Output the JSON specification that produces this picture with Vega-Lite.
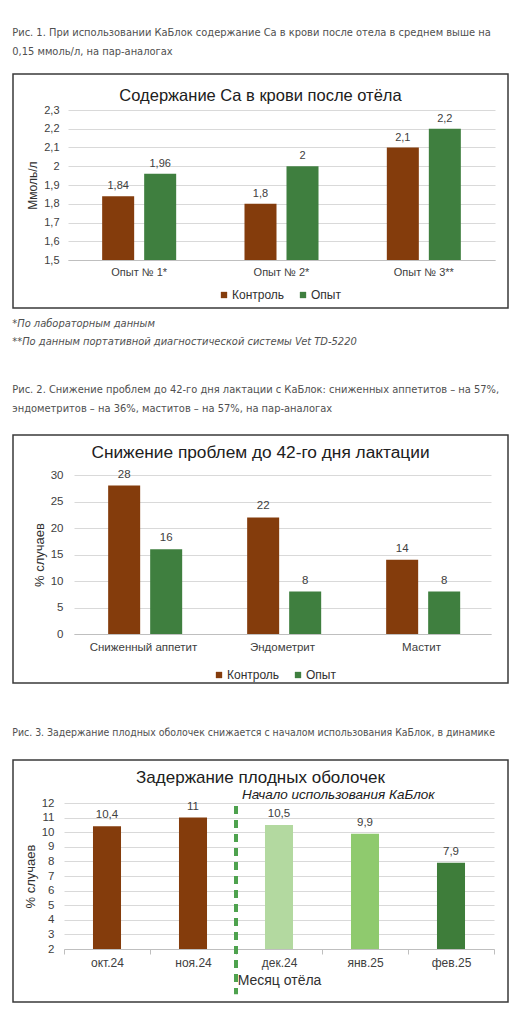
{
  "$schema": "https://vega.github.io/schema/vega-lite/v6.json",
  "background": "white",
  "padding": {"left": 12, "top": 27, "right": 10, "bottom": 5},
  "spacing": 37,
  "resolve": {"scale": {"color": "independent"}, "legend": {"color": "independent"}},
  "config": {
    "locale": {"number": {"decimal": ",", "thousands": " ", "grouping": [3], "currency": ["", " ₽"]}},
    "font": "Liberation Sans",
    "view": {"stroke": "#3a3a3a", "strokeWidth": 1.5},
    "axis": {
      "labelFont": "Liberation Sans",
      "labelColor": "#404040",
      "titleColor": "#303030",
      "titleFont": "Liberation Sans",
      "titleFontWeight": "normal",
      "gridColor": "#d9d9d9",
      "domainColor": "#bfbfbf",
      "ticks": false,
      "labelOverlap": false
    },
    "legend": {"labelFont": "Liberation Sans", "labelColor": "#303030"},
    "title": {"font": "Liberation Sans", "fontWeight": "normal", "color": "#202020"}
  },
  "vconcat": [
    {
      "title": {
        "text": ["Рис. 1. При использовании КаБлок содержание Ca в крови после отела в среднем выше на", "0,15 ммоль/л, на пар-аналогах"],
        "anchor": "start", "font": "DejaVu Sans Condensed", "fontSize": 11, "color": "#505050", "lineHeight": 19, "offset": 16
      },
      "resolve": {"scale": {"color": "independent"}, "legend": {"color": "independent"}},
      "vconcat": [
        {
          "title": {
            "text": ["*По лабораторным данным", "**По данным портативной диагностической системы Vet TD-5220"],
            "orient": "bottom", "anchor": "start", "font": "DejaVu Sans Condensed", "fontStyle": "italic", "fontSize": 11, "color": "#505050", "lineHeight": 18, "offset": 9
          },
          "vconcat": [
            {
              "width": 495,
              "height": 234,
              "title": {"text": "Содержание Ca в крови после отёла", "fontSize": 16.5, "offset": -30, "frame": "group"},
              "data": {"values": [
                {"trial": "Опыт № 1*", "group": "Контроль", "value": 1.84},
                {"trial": "Опыт № 1*", "group": "Опыт", "value": 1.96},
                {"trial": "Опыт № 2*", "group": "Контроль", "value": 1.8},
                {"trial": "Опыт № 2*", "group": "Опыт", "value": 2},
                {"trial": "Опыт № 3**", "group": "Контроль", "value": 2.1},
                {"trial": "Опыт № 3**", "group": "Опыт", "value": 2.2}
              ]},
              "encoding": {
                "x": {
                  "field": "trial", "type": "nominal", "sort": null,
                  "scale": {"range": [55, 482], "paddingInner": 0, "paddingOuter": 0},
                  "axis": {"orient": "bottom", "offset": -48, "labelAngle": 0, "labelPadding": 6, "labelFontSize": 11, "title": null}
                },
                "xOffset": {"field": "group", "sort": null, "scale": {"paddingInner": 0.238, "paddingOuter": 0.813}},
                "y": {
                  "field": "value", "type": "quantitative",
                  "scale": {"domain": [1.5, 2.3], "range": [186, 36], "nice": false, "zero": false},
                  "axis": {"offset": -55, "values": [1.5, 1.6, 1.7, 1.8, 1.9, 2, 2.1, 2.2, 2.3], "format": "~g", "labelOverlap": false, "domain": false, "grid": true, "labelPadding": 9, "labelFontSize": 11, "title": "Ммоль/л", "titleFontSize": 12, "titlePadding": 4}
                }
              },
              "layer": [
                {
                  "mark": {"type": "bar"},
                  "encoding": {
                    "y2": {"datum": 1.5},
                    "color": {
                      "field": "group", "type": "nominal",
                      "scale": {"domain": ["Контроль", "Опыт"], "range": ["#843c0c", "#3f7f3f"]},
                      "legend": {"orient": "none", "legendX": 205, "legendY": 215, "direction": "horizontal", "title": null, "symbolType": "square", "symbolSize": 40, "symbolStrokeWidth": 0, "labelFontSize": 12, "columnPadding": 12, "labelOffset": 2, "padding": 0}
                    }
                  }
                },
                {
                  "mark": {"type": "text", "baseline": "bottom", "dy": -5, "fontSize": 11, "color": "#404040"},
                  "encoding": {"text": {"field": "value", "type": "quantitative", "format": "~g"}}
                }
              ]
            }
          ]
        }
      ]
    },
    {
      "spacing": 43,
      "resolve": {"scale": {"color": "independent"}, "legend": {"color": "independent"}},
      "vconcat": [
        {
          "title": {
            "text": ["Рис. 2. Снижение проблем до 42-го дня лактации с КаБлок: сниженных аппетитов – на 57%,", "эндометритов – на 36%, маститов – на 57%, на пар-аналогах"],
            "anchor": "start", "font": "DejaVu Sans Condensed", "fontSize": 11, "color": "#505050", "lineHeight": 19, "offset": 20
          },
          "vconcat": [
            {
              "width": 495,
              "height": 248,
              "title": {"text": "Снижение проблем до 42-го дня лактации", "fontSize": 17.3, "offset": -26, "frame": "group"},
              "data": {"values": [
                {"problem": "Сниженный аппетит", "group": "Контроль", "value": 28},
                {"problem": "Сниженный аппетит", "group": "Опыт", "value": 16},
                {"problem": "Эндометрит", "group": "Контроль", "value": 22},
                {"problem": "Эндометрит", "group": "Опыт", "value": 8},
                {"problem": "Мастит", "group": "Контроль", "value": 14},
                {"problem": "Мастит", "group": "Опыт", "value": 8}
              ]},
              "encoding": {
                "x": {
                  "field": "problem", "type": "nominal", "sort": null,
                  "scale": {"range": [61, 478], "paddingInner": 0, "paddingOuter": 0},
                  "axis": {"orient": "bottom", "offset": -49, "labelAngle": 0, "labelPadding": 7, "labelFontSize": 11.5, "title": null}
                },
                "xOffset": {"field": "group", "sort": null, "scale": {"paddingInner": 0.244, "paddingOuter": 0.817}},
                "y": {
                  "field": "value", "type": "quantitative",
                  "scale": {"domain": [0, 30], "range": [199, 40], "nice": false},
                  "axis": {"offset": -61, "values": [0, 5, 10, 15, 20, 25, 30], "labelOverlap": false, "domain": false, "grid": true, "labelPadding": 11, "labelFontSize": 11.5, "title": "% случаев", "titleFontSize": 13, "titlePadding": 4}
                }
              },
              "layer": [
                {
                  "mark": {"type": "bar"},
                  "encoding": {
                    "y2": {"datum": 0},
                    "color": {
                      "field": "group", "type": "nominal",
                      "scale": {"domain": ["Контроль", "Опыт"], "range": ["#843c0c", "#3f7f3f"]},
                      "legend": {"orient": "none", "legendX": 200, "legendY": 234, "direction": "horizontal", "title": null, "symbolType": "square", "symbolSize": 40, "symbolStrokeWidth": 0, "labelFontSize": 12, "columnPadding": 12, "labelOffset": 2, "padding": 0}
                    }
                  }
                },
                {
                  "mark": {"type": "text", "baseline": "bottom", "dy": -6, "fontSize": 11.5, "color": "#404040"},
                  "encoding": {"text": {"field": "value", "type": "quantitative"}}
                }
              ]
            }
          ]
        },
        {
          "title": {
            "text": "Рис. 3. Задержание плодных оболочек снижается с началом использования КаБлок, в динамике",
            "anchor": "start", "font": "DejaVu Sans Condensed", "fontSize": 10.45, "color": "#505050", "offset": 21
          },
          "vconcat": [
            {
              "width": 495,
              "height": 242,
              "title": {"text": "Задержание плодных оболочек", "fontSize": 17, "offset": -27, "frame": "group"},
              "encoding": {
                "x": {
                  "field": "month", "type": "nominal",
                  "scale": {"domain": ["окт.24", "ноя.24", "дек.24", "янв.25", "фев.25"], "range": [51, 481], "paddingInner": 0, "paddingOuter": 0},
                  "axis": {"orient": "bottom", "offset": -53, "labelAngle": 0, "ticks": true, "tickBand": "extent", "tickSize": 5, "tickColor": "#bfbfbf", "labelPadding": 3, "labelFontSize": 12, "title": "Месяц отёла", "titleFontSize": 14, "titlePadding": 5}
                }
              },
              "layer": [
                {
                  "data": {"values": [
                    {"month": "окт.24", "value": 10.4},
                    {"month": "ноя.24", "value": 11},
                    {"month": "дек.24", "value": 10.5},
                    {"month": "янв.25", "value": 9.9},
                    {"month": "фев.25", "value": 7.9}
                  ]},
                  "encoding": {
                    "y": {
                      "field": "value", "type": "quantitative",
                      "scale": {"domain": [2, 12], "range": [189, 43], "nice": false, "zero": false},
                      "axis": {"offset": -51, "values": [2, 3, 4, 5, 6, 7, 8, 9, 10, 11, 12], "tickCount": 11, "labelOverlap": false, "domain": false, "grid": true, "labelPadding": 10, "labelFontSize": 11.5, "title": "% случаев", "titleFontSize": 13, "titlePadding": 4}
                    }
                  },
                  "layer": [
                    {
                      "mark": {"type": "bar", "width": {"band": 0.326}},
                      "encoding": {
                        "y2": {"datum": 2},
                        "color": {
                          "field": "month", "type": "nominal",
                          "scale": {"domain": ["окт.24", "ноя.24", "дек.24", "янв.25", "фев.25"], "range": ["#843c0c", "#843c0c", "#b3d9a0", "#8fca6e", "#3e7d3a"]},
                          "legend": null
                        }
                      }
                    },
                    {
                      "mark": {"type": "text", "baseline": "bottom", "dy": -6, "fontSize": 11.5, "color": "#404040"},
                      "encoding": {
                        "text": {"field": "value", "type": "quantitative", "format": "~g"}
                      }
                    }
                  ]
                },
                {
                  "data": {"values": [{"month": "дек.24", "note": "Начало использования КаБлок"}]},
                  "layer": [
                    {
                      "mark": {"type": "rule", "strokeDash": [8, 6], "strokeWidth": 4, "color": "#4ea24e"},
                      "encoding": {
                        "x": {"field": "month", "type": "nominal", "bandPosition": 0},
                        "y": {"datum": 11.8, "axis": {"offset": -51, "values": [2, 3, 4, 5, 6, 7, 8, 9, 10, 11, 12], "tickCount": 11, "labelOverlap": false, "domain": false, "grid": true, "labelPadding": 10, "labelFontSize": 11.5, "title": "% случаев", "titleFontSize": 13, "titlePadding": 4}},
                        "y2": {"datum": -1.1}
                      }
                    },
                    {
                      "mark": {"type": "text", "align": "left", "baseline": "middle", "dx": 6, "fontSize": 13.5, "fontStyle": "italic", "color": "#202020"},
                      "encoding": {
                        "x": {"field": "month", "type": "nominal", "bandPosition": 0},
                        "y": {"datum": 12.55, "axis": {"offset": -51, "values": [2, 3, 4, 5, 6, 7, 8, 9, 10, 11, 12], "tickCount": 11, "labelOverlap": false, "domain": false, "grid": true, "labelPadding": 10, "labelFontSize": 11.5, "title": "% случаев", "titleFontSize": 13, "titlePadding": 4}},
                        "text": {"field": "note"}
                      }
                    }
                  ]
                }
              ]
            }
          ]
        }
      ]
    }
  ]
}
